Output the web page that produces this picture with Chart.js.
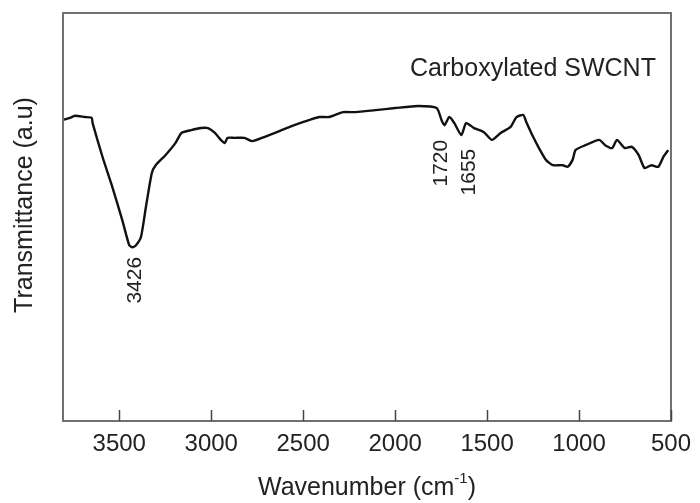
<!DOCTYPE html>
<html>
<head>
<meta charset="utf-8">
<script src="https://cdn.jsdelivr.net/npm/chart.js@4.4.1/dist/chart.umd.min.js"></script>
<style>
  html, body { margin: 0; padding: 0; background: #ffffff; }
  #wrap { width: 700px; height: 503px; position: relative; }
</style>
</head>
<body>
<div id="wrap"><canvas id="c" width="700" height="503"></canvas></div>
<script>
// Wavenumber (cm^-1)
const wavenumbers = [3805, 3768, 3741, 3688, 3650, 3645, 3591, 3538, 3484, 3446, 3428, 3409, 3382, 3355, 3323, 3302,
  3248, 3195, 3162, 3109, 3055, 3018, 2980, 2948, 2927, 2911, 2873, 2819, 2777, 2712, 2643, 2573, 2498, 2412, 2359,
  2283, 2214, 2107, 2000, 1876, 1774, 1748, 1732, 1705, 1678, 1640, 1614, 1571, 1517, 1474, 1426, 1372, 1340, 1303,
  1287, 1249, 1212, 1180, 1142, 1089, 1062, 1035, 1019, 965, 890, 858, 820, 794, 751, 713, 676, 644, 606, 569, 542, 515];
// Transmittance (a.u.)
const transmittance = [73.8, 74.3, 74.8, 74.5, 74.3, 73.0, 64.7, 57.4, 49.3, 43.1, 42.6, 43.1, 45.1, 52.5, 60.8, 62.7,
  65.2, 68.1, 70.6, 71.3, 71.8, 71.8, 70.6, 68.9, 68.1, 69.4, 69.4, 69.4, 68.6, 69.6, 70.8, 72.1, 73.3, 74.5, 74.5,
  75.7, 75.7, 76.2, 76.7, 77.2, 76.7, 73.8, 72.5, 74.5, 73.0, 70.1, 73.0, 71.8, 70.8, 68.9, 70.6, 72.1, 74.5, 75.0,
  73.3, 69.6, 66.4, 64.0, 62.7, 62.7, 62.3, 64.0, 66.4, 67.6, 68.9, 67.6, 66.9, 68.9, 66.9, 67.2, 65.2, 62.0, 62.7, 62.3, 64.7, 66.4];
const xTickValues = [3500, 3000, 2500, 2000, 1500, 1000, 500];
const peakLabels = ['3426', '1720', '1655'];
const peakLabelX = [3412, 1748, 1597];
const peakLabelY = [34.5, 63.2, 61.0];
const seriesName = 'Carboxylated SWCNT';
const xTitle = 'Wavenumber (cm';
const xTitleSup = '-1';
const yTitle = 'Transmittance (a.u)';

const FONT = '"Liberation Sans", Arial, sans-serif';
const TEXT = '#222222';

const points = wavenumbers.map((w, i) => ({ x: w, y: transmittance[i] }));

const decor = {
  id: 'decor',
  afterDraw(chart) {
    const ctx = chart.ctx;
    const a = chart.chartArea;
    const xs = chart.scales.x, ys = chart.scales.y;
    ctx.save();
    // frame
    ctx.strokeStyle = '#707070';
    ctx.lineWidth = 2;
    ctx.strokeRect(a.left, a.top, a.right - a.left, a.bottom - a.top);
    // inner ticks
    ctx.strokeStyle = '#444444';
    ctx.lineWidth = 1.5;
    xTickValues.forEach(v => {
      const px = Math.round(xs.getPixelForValue(v)) + 0.5;
      ctx.beginPath();
      ctx.moveTo(px, a.bottom);
      ctx.lineTo(px, a.bottom - 11);
      ctx.stroke();
    });
    ctx.fillStyle = TEXT;
    // series name
    ctx.font = '25px ' + FONT;
    ctx.textAlign = 'center';
    ctx.textBaseline = 'middle';
    ctx.fillText(seriesName, 533, 69);
    // peak labels (rotated)
    ctx.font = '21px ' + FONT;
    peakLabels.forEach((t, i) => {
      const px = xs.getPixelForValue(peakLabelX[i]);
      const py = ys.getPixelForValue(peakLabelY[i]);
      ctx.save();
      ctx.translate(px, py);
      ctx.rotate(-Math.PI / 2);
      ctx.textAlign = 'center';
      ctx.textBaseline = 'middle';
      ctx.fillText(t, 0, 0);
      ctx.restore();
    });
    // x title with superscript
    ctx.font = '25px ' + FONT;
    const w1 = ctx.measureText(xTitle).width;
    ctx.font = '15px ' + FONT;
    const w2 = ctx.measureText(xTitleSup).width;
    ctx.font = '25px ' + FONT;
    const w3 = ctx.measureText(')').width;
    const total = w1 + w2 + w3;
    const cx = (a.left + a.right) / 2;
    let sx = cx - total / 2;
    const by = 495;
    ctx.textAlign = 'left';
    ctx.textBaseline = 'alphabetic';
    ctx.fillText(xTitle, sx, by);
    ctx.font = '15px ' + FONT;
    ctx.fillText(xTitleSup, sx + w1, by - 12);
    ctx.font = '25px ' + FONT;
    ctx.fillText(')', sx + w1 + w2, by);
    // y title
    ctx.save();
    ctx.translate(25, 205);
    ctx.rotate(-Math.PI / 2);
    ctx.textAlign = 'center';
    ctx.textBaseline = 'middle';
    ctx.fillText(yTitle, 0, 0);
    ctx.restore();
    ctx.restore();
  }
};

new Chart(document.getElementById('c'), {
  type: 'line',
  data: {
    datasets: [{
      label: seriesName,
      data: points,
      borderColor: '#111111',
      borderWidth: 2.4,
      pointRadius: 0,
      tension: 0.2,
      fill: false
    }]
  },
  options: {
    responsive: false,
    animation: false,
    devicePixelRatio: 1,
    layout: { padding: { left: 63, top: 13, right: 23, bottom: 0 } },
    plugins: { legend: { display: false }, tooltip: { enabled: false }, title: { display: false } },
    scales: {
      x: {
        type: 'linear',
        reverse: true,
        min: 500,
        max: 3806,
        afterBuildTicks: (s) => { s.ticks = xTickValues.map(v => ({ value: v })); },
        afterFit: (s) => { s.height = 82; },
        grid: { display: false, drawTicks: false },
        border: { display: false },
        ticks: {
          padding: 9,
          color: TEXT,
          font: { family: FONT, size: 24 },
          maxRotation: 0,
          autoSkip: false,
          callback: (v) => String(v)
        }
      },
      y: {
        display: false,
        min: 0,
        max: 100
      }
    }
  },
  plugins: [decor]
});
</script>
</body>
</html>
